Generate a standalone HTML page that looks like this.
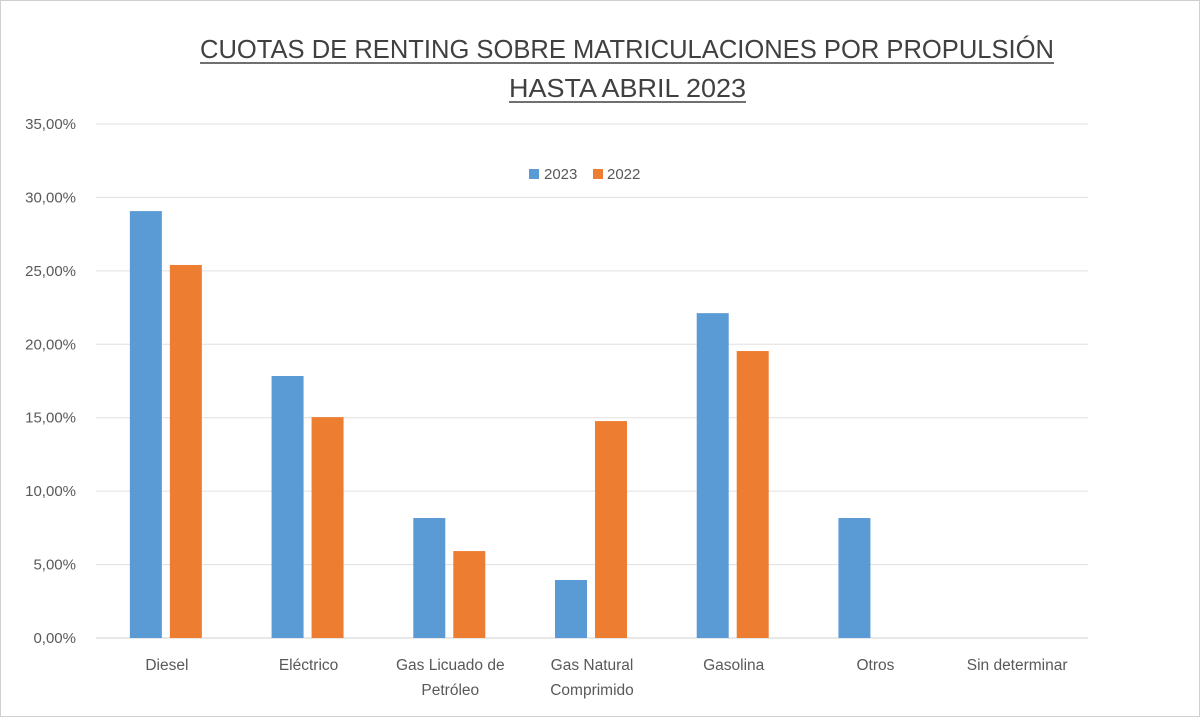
<!DOCTYPE html>
<html><head><meta charset="utf-8">
<style>
html,body{margin:0;padding:0;background:#fff;}
svg{display:block;font-family:"Liberation Sans",Calibri,sans-serif;}
</style></head>
<body>
<svg id="chart" width="1200" height="717">
<rect x="0.5" y="0.5" width="1199" height="716" fill="#fff" stroke="#d0d0d0"/>
<text x="200" y="58" textLength="854" lengthAdjust="spacingAndGlyphs" font-size="26" fill="#404040">CUOTAS DE RENTING SOBRE MATRICULACIONES POR PROPULSIÓN</text>
<text x="509" y="97" textLength="237" lengthAdjust="spacingAndGlyphs" font-size="26" fill="#404040">HASTA ABRIL 2023</text>
<line x1="200" y1="63" x2="1054" y2="63" stroke="#404040" stroke-width="1.5"/>
<line x1="509" y1="102" x2="746" y2="102" stroke="#404040" stroke-width="1.5"/>
<g id="grid"></g>
<g id="bars"></g>
<g id="labels"></g>
<g>
<rect x="529" y="169" width="10" height="10" fill="#5b9bd5"/>
<text x="544" y="179" font-size="15" fill="#595959">2023</text>
<rect x="593" y="169" width="10" height="10" fill="#ed7d31"/>
<text x="607" y="179" font-size="15" fill="#595959">2022</text>
</g>
</svg>
<script>
const categories=[["Diesel"],["Eléctrico"],["Gas Licuado de","Petróleo"],["Gas Natural","Comprimido"],["Gasolina"],["Otros"],["Sin determinar"]];
const values2023=[29.07,17.84,8.17,3.95,22.12,8.17,0];
const values2022=[25.4,15.04,5.92,14.77,19.54,0,0];
const yTicks=[0,5,10,15,20,25,30,35];
const yTickLabels=["0,00%","5,00%","10,00%","15,00%","20,00%","25,00%","30,00%","35,00%"];
const NS="http://www.w3.org/2000/svg";
const X0=96,X1=1088,Y0=638,YT=124,YMAX=35;
const y=v=>Y0-(v/YMAX)*(Y0-YT);
const bw=(X1-X0)/categories.length;
const cx=i=>X0+bw*(i+0.5);
function mk(tag,attrs,parent){const e=document.createElementNS(NS,tag);for(const k in attrs)e.setAttribute(k,attrs[k]);parent.appendChild(e);return e;}
const grid=document.getElementById('grid'),bars=document.getElementById('bars'),labels=document.getElementById('labels');
yTicks.forEach((t,i)=>{
  const l=mk('line',{x1:X0,x2:X1,y1:y(t),y2:y(t),stroke:t===0?'#d0d0d0':'#e0e0e0','stroke-width':1},grid);
  
  
  const tx=mk('text',{x:76,y:y(t)+5,'text-anchor':'end','font-size':15,fill:'#595959'},grid);
  tx.textContent=yTickLabels[i];
  
  
});
categories.forEach((c,i)=>{
  const c0=cx(i);
  if(values2023[i]>0){
    const b=mk('rect',{x:c0-37,y:y(values2023[i]),width:32,height:Y0-y(values2023[i]),fill:'#5b9bd5'},bars);
    
    
  }
  if(values2022[i]>0){
    const b=mk('rect',{x:c0+3,y:y(values2022[i]),width:32,height:Y0-y(values2022[i]),fill:'#ed7d31'},bars);
    
    
  }
  c.forEach((line,j)=>{
    const t=mk('text',{x:c0,y:670+j*25,'text-anchor':'middle','font-size':15.5,fill:'#595959'},labels);
    t.textContent=line;
    
    
  });
});
</script>
</body></html>
